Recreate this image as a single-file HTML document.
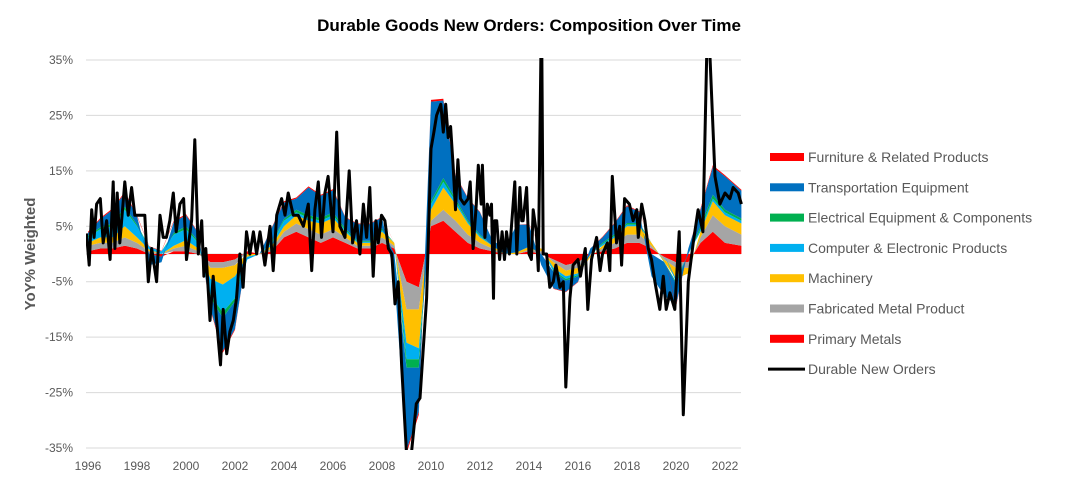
<!DOCTYPE html>
<html><head><meta charset="utf-8"><style>
body{margin:0;background:#fff;width:1074px;height:482px;overflow:hidden;font-family:"Liberation Sans",sans-serif}
</style></head><body>
<svg id="chart" width="1074" height="482" xmlns="http://www.w3.org/2000/svg">
<text x="529" y="31" text-anchor="middle" font-size="17" font-weight="bold" fill="#000">Durable Goods New Orders: Composition Over Time</text>
<text transform="translate(35,254) rotate(-90)" text-anchor="middle" font-size="15" font-weight="bold" fill="#595959">YoY% Weighted</text>
<g id="grid"></g><g id="areas" clip-path="url(#clip)"></g><g id="line" clip-path="url(#clip)"></g><g id="axes"></g><g id="legend"></g>
<defs><clipPath id="clip"><rect x="86" y="58" width="660" height="392"/></clipPath></defs>
</svg>
<script>
const lineYears=[1995.94,1996.05,1996.15,1996.25,1996.35,1996.5,1996.62,1996.76,1996.9,1997.03,1997.1,1997.19,1997.3,1997.5,1997.64,1997.78,1997.91,1998.12,1998.32,1998.46,1998.6,1998.8,1998.94,1999.07,1999.2,1999.34,1999.48,1999.6,1999.75,1999.9,2000.02,2000.23,2000.36,2000.5,2000.64,2000.73,2000.81,2000.98,2001.11,2001.25,2001.41,2001.52,2001.66,2001.79,2001.93,2002.06,2002.2,2002.33,2002.47,2002.61,2002.75,2002.88,2003.02,2003.22,2003.43,2003.56,2003.7,2003.9,2004.04,2004.17,2004.38,2004.58,2004.79,2004.99,2005.13,2005.26,2005.4,2005.53,2005.67,2005.8,2006.0,2006.15,2006.28,2006.49,2006.66,2006.8,2006.96,2007.1,2007.24,2007.37,2007.5,2007.64,2007.75,2007.85,2007.98,2008.12,2008.26,2008.4,2008.53,2008.66,2008.8,2009.0,2009.2,2009.4,2009.55,2009.82,2010.0,2010.12,2010.23,2010.4,2010.5,2010.6,2010.7,2010.8,2010.9,2011.0,2011.1,2011.2,2011.35,2011.52,2011.6,2011.72,2011.85,2011.93,2012.05,2012.1,2012.2,2012.3,2012.4,2012.47,2012.55,2012.6,2012.68,2012.8,2012.9,2013.0,2013.08,2013.2,2013.42,2013.5,2013.63,2013.7,2013.76,2013.9,2014.0,2014.1,2014.17,2014.3,2014.38,2014.51,2014.58,2014.72,2014.85,2014.99,2015.1,2015.26,2015.4,2015.5,2015.67,2015.8,2016.0,2016.1,2016.3,2016.4,2016.55,2016.76,2016.9,2017.0,2017.2,2017.3,2017.4,2017.57,2017.7,2017.78,2017.9,2018.1,2018.25,2018.4,2018.46,2018.6,2018.73,2018.87,2019.0,2019.14,2019.34,2019.48,2019.6,2019.75,2019.95,2020.13,2020.3,2020.5,2020.7,2020.9,2021.1,2021.3,2021.59,2021.79,2022.0,2022.2,2022.33,2022.54,2022.67];
const lineValues=[3.7,-2,8,3,9,10,2,6,-1,13,1,11,2,13,7,12,7,7,7,-5,1,-5,7,3,3,6,11,4,9,10,-1,6,20.6,0,6,-4,1,-12,-4,-12,-20,-10,-18,-14,-12,-8,0,-6,4,0,4,0,4,-2,5,-3,7,10,7,11,7,7,5,9,-3,8,13,3,11,14,4,22,5,3,15,2,6,0,9,3,12,-4,6,2,7,6,1,0,-9,-5,-20,-36,-36,-27,-26,-8,19,22,25,27,22,27,21,23,16,8,17,10,9,10,13,1,9,16,9,16,3,9,7,9,-8,6,6,-1,4,-1,4,0,13,0,12,6,6,12,0,-1,8,4,-3,45,0,0,-6,-5,-2,-6,-5,-24,-8,-2,-1,-4,1,-10,-1,3,-3,0,2,-3,14,2,5,-2,10,9,6,8,3,9,6,1,-1,-5,-10,-4,-10,-7,-10,4,-29,-5,2,8,4,45,14,9,11,10,12,11,9];
const compYears=[1996,1996.5,1997,1997.5,1998,1998.5,1999,1999.5,2000,2000.5,2001,2001.5,2002,2002.5,2003,2003.5,2004,2004.5,2005,2005.5,2006,2006.5,2007,2007.5,2008,2008.5,2009,2009.5,2010,2010.5,2011,2011.5,2012,2012.5,2013,2013.5,2014,2014.5,2015,2015.5,2016,2016.5,2017,2017.5,2018,2018.5,2019,2019.5,2020,2020.5,2021,2021.5,2022,2022.67];
const primaryMetals=[0.5,1,1,1.5,1,0,-0.5,0.5,0.5,0,-1.5,-1.5,-1,0.5,0,0.5,3,4,3,2,3,2,1,1,2,1,-5,-6,5,6,4,2,1,0.5,0,0,0.5,0,-1,-2,-1.5,0,0.5,1,2,2,1,-0.5,-1.5,-1.5,2,4,2,1.5];
const fabricatedMetal=[1,1,1,1.5,1,0.5,0,0.5,1,0.5,-1,-1,-1,0,0,0.5,1,1.5,1.5,1.5,1.5,1,0.5,0.5,1,0.5,-5,-4,1,2,2,1.5,1,0.5,0,0,0.3,0.5,-0.5,-1,-1,-0.3,0.5,1,1.5,1.5,0.5,-0.5,-1,-1,1,3,3,2];
const machinery=[0.5,1,1,2,1,0.3,0,0.5,1,0.5,-2,-3,-2,-0.5,0,0.5,1,1.5,1.5,2,2,1,0.5,0.5,1,0.5,-6,-7,2,4,3,2,1,0.5,0,0.3,0.5,0.5,-1,-1,-1,-0.3,0.5,1,1.5,1.5,0.5,-0.3,-2,-1,1,2.5,2,2];
const computerElectronic=[1,1.5,2,3,2,0.5,0.5,2,2,1,-3,-5,-4,-0.5,0,0.5,1,0.5,0.5,0.5,0.5,0.3,0.2,0.2,0.3,0,-3,-2,1,1,0.5,0.3,0.3,0,0,0,0,0,-0.5,-0.5,-0.3,0,0.3,0.3,0.3,0.3,0,0,-0.5,0,0.5,0.5,0.5,0.5];
const electricalEquipment=[0.3,0.3,0.5,0.5,0.3,0,0,0.3,0.5,0.3,-0.5,-1,-0.5,0,0,0.2,0.3,0.5,0.5,0.5,0.5,0.3,0.2,0.2,0.3,0,-1.5,-1.5,0.5,0.7,0.5,0.3,0.2,0,0,0,0,0,-0.2,-0.3,-0.2,0,0.2,0.3,0.3,0.3,0,-0.1,-0.3,0,0.5,0.7,0.5,0.4];
const transportation=[0.5,1.5,2.5,2.5,1.5,-2,-1,2,2,1.5,-2,-6,-5,0,0,2.5,3,2,5,4,4,2,3,3,2,-4,-15,-8,18,14,4,4,4,1,1,5,4,-2,-3,-2,-1,1,1,2,3,2,-4,-6,-4,1,3,5,6,5];
const furniture=[0.2,0.2,0.2,0.2,0.2,0.1,0.1,0.2,0.2,0.1,-0.2,-0.3,-0.2,0,0,0.1,0.2,0.2,0.2,0.2,0.2,0.1,0.1,0.1,0.1,0,-0.5,-0.5,0.3,0.3,0.2,0.1,0.1,0,0,0,0.1,0,-0.1,-0.1,-0.1,0,0.1,0.1,0.2,0.1,0,0,-0.2,0,0.2,0.3,0.2,0.2];
const yTicks=[35,25,15,5,-5,-15,-25,-35];
const xTicks=[1996,1998,2000,2002,2004,2006,2008,2010,2012,2014,2016,2018,2020,2022];
const seriesNames=["Primary Metals","Fabricated Metal Product","Machinery","Computer & Electronic Products","Electrical Equipment & Components","Transportation Equipment","Furniture & Related Products"];
const seriesColors=["#ff0000","#a5a5a5","#ffc000","#00b0f0","#00b050","#0070c0","#ff0000"];
const seriesData=[primaryMetals,fabricatedMetal,machinery,computerElectronic,electricalEquipment,transportation,furniture];

const NS="http://www.w3.org/2000/svg";
const xs=y=>88+(y-1996)*24.5;
const ys=v=>254-v*5.543;
function mk(tag,attrs,parent){const e=document.createElementNS(NS,tag);for(const k in attrs)e.setAttribute(k,attrs[k]);parent.appendChild(e);return e;}
const grid=document.getElementById('grid'),axes=document.getElementById('axes');
yTicks.forEach(t=>{
  const l=mk('line',{x1:86,x2:741,y1:ys(t),y2:ys(t),stroke:'#d9d9d9','stroke-width':1},grid);
  
  
  const tx=mk('text',{x:73,y:ys(t)+4,'text-anchor':'end','font-size':12,fill:'#595959'},axes);
  tx.textContent=t+'%';
  
  
});
const zl=mk('line',{x1:86,x2:741,y1:ys(0),y2:ys(0),stroke:'#d9d9d9','stroke-width':1},grid);


xTicks.forEach(t=>{
  const tx=mk('text',{x:xs(t),y:470,'text-anchor':'middle','font-size':12,fill:'#595959'},axes);
  tx.textContent=t;
  
  
});
const areas=document.getElementById('areas');
const n=compYears.length;
let posBase=new Array(n).fill(0),negBase=new Array(n).fill(0);
seriesData.forEach((arr,si)=>{
  const lo=[],hi=[];
  for(let i=0;i<n;i++){
    const v=arr[i];
    if(v>=0){lo.push(posBase[i]);posBase[i]+=v;hi.push(posBase[i]);}
    else{lo.push(negBase[i]);negBase[i]+=v;hi.push(negBase[i]);}
  }
  let pts=[];
  for(let i=0;i<n;i++)pts.push(xs(compYears[i]).toFixed(1)+','+ys(hi[i]).toFixed(1));
  for(let i=n-1;i>=0;i--)pts.push(xs(compYears[i]).toFixed(1)+','+ys(lo[i]).toFixed(1));
  const p=mk('polygon',{points:pts.join(' '),fill:seriesColors[si]},areas);
  
  
});
const lp=lineYears.map((y,i)=>xs(y).toFixed(1)+','+ys(lineValues[i]).toFixed(1)).join(' ');
const pl=mk('polyline',{points:lp,fill:'none',stroke:'#000','stroke-width':3,'stroke-linejoin':'round'},document.getElementById('line'));


const lg=document.getElementById('legend');
const legendOrder=[6,5,4,3,2,1,0];
legendOrder.forEach((si,k)=>{
  const y=157+k*30.3;
  const r=mk('rect',{x:770,y:y-4,width:34,height:8,fill:seriesColors[si]},lg);
  
  
  const t=mk('text',{x:808,y:y+5,'font-size':14,fill:'#595959'},lg);
  t.textContent=seriesNames[si];
  
  
});
const ly=157+7*30.3;
const ll=mk('line',{x1:768,x2:805,y1:ly,y2:ly,stroke:'#000','stroke-width':3},lg);


const lt=mk('text',{x:808,y:ly+5,'font-size':14,fill:'#595959'},lg);
lt.textContent='Durable New Orders';


</script>
</body></html>
